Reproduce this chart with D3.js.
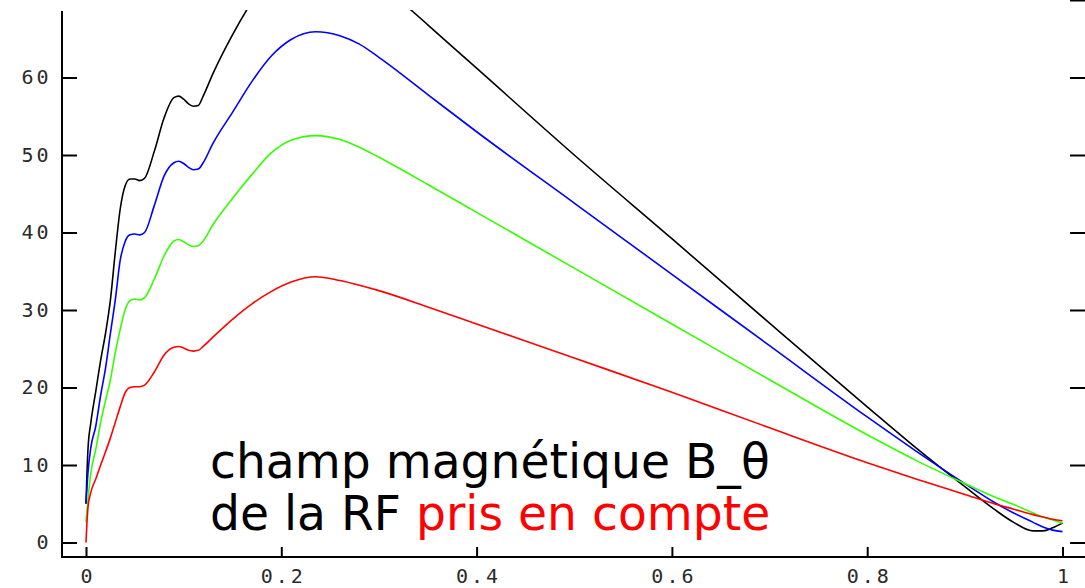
<!DOCTYPE html>
<html>
<head>
<meta charset="utf-8">
<script src="https://cdn.jsdelivr.net/npm/d3@7"></script>
<style>
  html, body { margin: 0; padding: 0; background: #fff; }
  .axis text { font-family: "DejaVu Sans Mono", monospace; font-size: 20px; fill: #2a2a2a; letter-spacing: 3px; }
  .axis line { stroke: #000; stroke-width: 2; }
  .axis path { display: none; }
</style>
</head>
<body>
<div id="chart"></div>
<script>
// Radial profiles of B_theta, four curves

const xs = [0, 0.002, 0.005, 0.01, 0.015, 0.02, 0.025, 0.03, 0.035, 0.04, 0.045, 0.05, 0.055, 0.06,
            0.07, 0.08, 0.09, 0.095, 0.1, 0.105, 0.11, 0.115, 0.12, 0.13, 0.15, 0.17, 0.19, 0.21,
            0.235, 0.26, 0.28, 0.3, 0.35, 0.4, 0.5, 0.6, 0.7, 0.8, 0.85, 0.9, 0.93, 0.95, 0.97,
            0.98, 0.99, 1]

const blackVals = [5, 12, 15.5, 19.5, 23.5, 27, 31.3, 37.5, 43, 46, 46.9, 46.9, 46.7, 47,
                   50.5, 54.8, 57.4, 57.6, 57.2, 56.6, 56.3, 56.4, 57.6, 60.5, 65.5, 69.8, 73.3, 75.8,
                   77.2, 76.6, 74.8, 72.4, 66.8, 61.2, 50, 39.2, 28.3, 17.5, 12.2, 7.2, 4.3, 2.6, 1.5,
                   1.5, 1.9, 2.5]

const blueVals = [5, 9, 12.3, 15, 19, 22.5, 27, 31.3, 36.4, 38.8, 39.7, 39.8, 39.7, 40,
                  43.5, 47.3, 49, 49.2, 48.9, 48.4, 48.1, 48.2, 49, 51.5, 55.5, 59.5, 62.8, 64.9,
                  65.9, 65.4, 64.3, 62.6, 57.8, 53, 43.8, 34.6, 25.4, 16.2, 11.8, 7.6, 5.2, 3.8, 2.6,
                  2, 1.6, 1.4]

const greenVals = [2.6, 5.5, 9, 12, 15.5, 18.3, 21, 24.5, 27.5, 30, 31.2, 31.4, 31.3, 31.6,
                   34, 37, 38.9, 39.1, 38.8, 38.4, 38.2, 38.3, 38.9, 41, 44.4, 47.5, 50.3, 51.9,
                   52.5, 52, 51, 49.7, 46.2, 42.6, 35.4, 28.2, 21, 13.9, 10.6, 7.6, 5.9, 4.9, 3.8,
                   3.3, 2.9, 2.5]

const redVals = [0, 4.5, 6.5, 8.2, 10, 11.7, 13.5, 15.5, 17.5, 19.3, 20, 20.1, 20.1, 20.3,
                 22, 24.2, 25.2, 25.3, 25.1, 24.8, 24.7, 24.8, 25.3, 26.5, 28.8, 30.8, 32.4, 33.6,
                 34.3, 33.8, 33.2, 32.5, 30.4, 28.2, 23.8, 19.4, 14.8, 10.3, 8.2, 6.2, 5, 4.3, 3.6,
                 3.3, 3, 2.8]

const seriesNames = ['black', 'blue', 'green', 'red']
const seriesColors = ['#000000', '#0000ff', '#33ff00', '#ff0000']

const xTicks = [0, 0.2, 0.4, 0.6, 0.8, 1]
const yTicksLeft = [0, 10, 20, 30, 40, 50, 60]
const yTicksRight = [0, 10, 20, 30, 40, 50, 60, 70]

const width = 1085, height = 588

const svg = d3.select('#chart').append('svg')
    .attr('width', width)
    .attr('height', height)

const x = d3.scaleLinear().domain([0, 1]).range([86, 1062.5])
const y = d3.scaleLinear().domain([0, 70]).range([542.5, 0])

// clip for the curves (top of picture is cut)
svg.append('clipPath').attr('id', 'plotclip')
    .append('rect').attr('x', 62).attr('y', 10).attr('width', 1023).attr('height', 547)

// axis frame
svg.append('line')
    .attr('x1', 62).attr('x2', 62).attr('y1', 11).attr('y2', 558)
    .attr('stroke', '#000').attr('stroke-width', 2)
svg.append('line')
    .attr('x1', 61).attr('x2', width).attr('y1', 557).attr('y2', 557)
    .attr('stroke', '#000').attr('stroke-width', 2)

svg.append('g')
    .attr('class', 'axis')
    .attr('transform', 'translate(62,0)')
    .call(d3.axisLeft(y).tickValues(yTicksLeft).tickSize(-15).tickPadding(12))

svg.append('g')
    .attr('class', 'axis')
    .attr('transform', `translate(${width},0)`)
    .call(d3.axisRight(y).tickValues(yTicksRight).tickSize(-15).tickFormat(''))

svg.append('g')
    .attr('class', 'axis')
    .attr('transform', 'translate(0,557)')
    .call(d3.axisBottom(x).tickValues(xTicks).tickSize(-10).tickPadding(12).tickFormat(d3.format('~g')))

// nudge bottom labels right by half the letter spacing so they stay centred
svg.selectAll('.axis text').filter(function() { return this.getAttribute('text-anchor') !== 'end' })
    .attr('dx', '1.5')

// curves
const allVals = [blackVals, blueVals, greenVals, redVals]
const line = d3.line()
    .x(d => x(d[0]))
    .y(d => y(d[1]))
    .curve(d3.curveMonotoneX)

svg.append('g')
    .attr('clip-path', 'url(#plotclip)')
    .selectAll('path')
    .data(allVals)
    .enter()
    .append('path')
    .attr('d', vals => line(xs.map((v, i) => [v, vals[i]])))
    .attr('fill', 'none')
    .attr('stroke', (d, i) => seriesColors[i])
    .attr('stroke-width', 1.6)

// annotation
const note = svg.append('g')
    .style('font-family', '"DejaVu Sans", sans-serif')
    .style('font-size', '44px')

const l1 = note.append('text')
    .attr('x', 210).attr('y', 478)
    .attr('fill', '#000')
    .text('champ magnétique B_θ')

const l2 = note.append('text')
    .attr('x', 210).attr('y', 530)
l2.append('tspan').attr('fill', '#000').text('de la RF ')
l2.append('tspan').attr('fill', '#ff0000').text('pris en compte')

// size the font so that line 1 spans the same width as in the picture
const w1 = l1.node().getComputedTextLength()
note.style('font-size', (44 * 560 / w1) + 'px')
</script>
</body>
</html>
